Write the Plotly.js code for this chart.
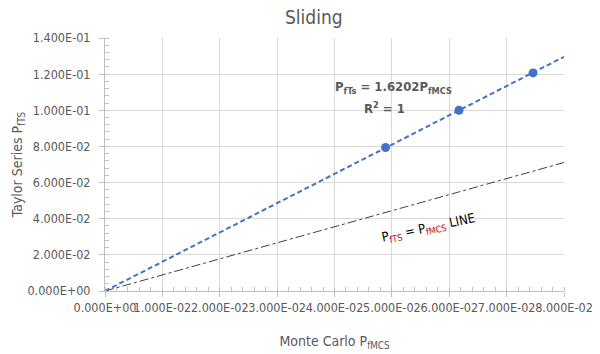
<!DOCTYPE html>
<html>
<head>
<meta charset="utf-8">
<script src="https://cdn.plot.ly/plotly-3.0.1.min.js"></script>
<style>html,body{margin:0;padding:0;background:#fff;}#chart{width:600px;height:354px;}</style>
</head>
<body>
<div id="chart"></div>
<script>
// Data
const pMCS = [0.0489, 0.0617, 0.0746];        // Monte Carlo P_fMCS
const pFTS = [0.0794, 0.1000, 0.1207];        // Taylor Series P_fTS
const trendSlope = 1.6202;                     // fitted trendline P_fTS = 1.6202 P_fMCS
const trendX = [0, 0.08];
const refLineX = [0, 0.08];                    // "P_fTS = P_fMCS LINE" as drawn
const refLineY = [0, 0.0711];
const xTickVals = [0, 0.01, 0.02, 0.03, 0.04, 0.05, 0.06, 0.07, 0.08];
const xTickText = ["0.000E+00","1.000E-02","2.000E-02","3.000E-02","4.000E-02","5.000E-02","6.000E-02","7.000E-02","8.000E-02"];
const yTickVals = [0, 0.02, 0.04, 0.06, 0.08, 0.10, 0.12, 0.14];
const yTickText = ["0.000E+00","2.000E-02","4.000E-02","6.000E-02","8.000E-02","1.000E-01","1.200E-01","1.400E-01"];

const FONT = '"Liberation Sans Narrow","DejaVu Sans Condensed","Roboto",sans-serif';
const GREY = '#595959';
const BLUE = '#4472C4';

const traces = [
  {
    x: refLineX, y: refLineY, type: 'scatter', mode: 'lines',
    line: {color: '#404040', width: 1, dash: 'dashdot'},
    hoverinfo: 'skip', showlegend: false
  },
  {
    x: trendX, y: trendX.map(v => trendSlope * v), type: 'scatter', mode: 'lines',
    line: {color: BLUE, width: 2, dash: '5px,3px'},
    showlegend: false
  },
  {
    x: pMCS, y: pFTS, type: 'scatter', mode: 'markers',
    marker: {color: BLUE, size: 9},
    showlegend: false
  }
];

const axisCommon = {
  showgrid: true, gridcolor: '#d9d9d9', gridwidth: 1,
  showline: true, linecolor: '#bfbfbf', linewidth: 1,
  zeroline: false,
  ticks: 'outside', ticklen: 5, tickcolor: '#bfbfbf',
  tickfont: {family: FONT, size: 12.5, color: GREY},
  tickmode: 'array', tickangle: 0
};

const layout = {
  width: 600, height: 354,
  margin: {l: 105, r: 36, t: 38, b: 63},
  paper_bgcolor: '#fff', plot_bgcolor: '#fff',
  font: {family: FONT, color: GREY},
  title: {
    text: 'Sliding', font: {family: FONT, size: 19, color: GREY},
    xref: 'paper', x: 0.455, xanchor: 'center', yref: 'container', y: 0.95, yanchor: 'middle'
  },
  xaxis: Object.assign({}, axisCommon, {
    range: [0, 0.08], tickvals: xTickVals, ticktext: xTickText,
    minor: {dtick: 0.002, ticks: 'inside', ticklen: 4, tickcolor: '#bfbfbf', showgrid: false},
    title: {text: 'Monte Carlo P<sub>fMCS</sub>', font: {family: FONT, size: 14, color: GREY}, standoff: 22}
  }),
  yaxis: Object.assign({}, axisCommon, {
    range: [0, 0.14], tickvals: yTickVals, ticktext: yTickText, ticklabelstandoff: 6,
    minor: {dtick: 0.004, ticks: 'inside', ticklen: 4, tickcolor: '#bfbfbf', showgrid: false},
    title: {text: 'Taylor Series P<sub>fTS</sub>', font: {family: FONT, size: 14, color: GREY}, standoff: 1}
  }),
  annotations: [
    {
      xref: 'x', yref: 'y', x: 0.0502, y: 0.1125, showarrow: false,
      text: '<b>P<sub>fTs</sub> = 1.6202P<sub>fMCS</sub></b>',
      font: {family: FONT, size: 13, color: GREY}
    },
    {
      xref: 'x', yref: 'y', x: 0.0488, y: 0.1010, showarrow: false,
      text: '<b>R<sup>2</sup> = 1</b>',
      font: {family: FONT, size: 13, color: GREY}
    },
    {
      xref: 'x', yref: 'y', x: 0.0563, y: 0.0345, showarrow: false,
      text: 'P<sub><span style="color:#c00000">fTS</span></sub> = P<sub><span style="color:#c00000">fMCS</span></sub> LINE',
      textangle: -12,
      font: {family: FONT, size: 13, color: '#000'}
    }
  ]
};

Plotly.newPlot('chart', traces, layout, {displayModeBar: false, staticPlot: true});
</script>
</body>
</html>
